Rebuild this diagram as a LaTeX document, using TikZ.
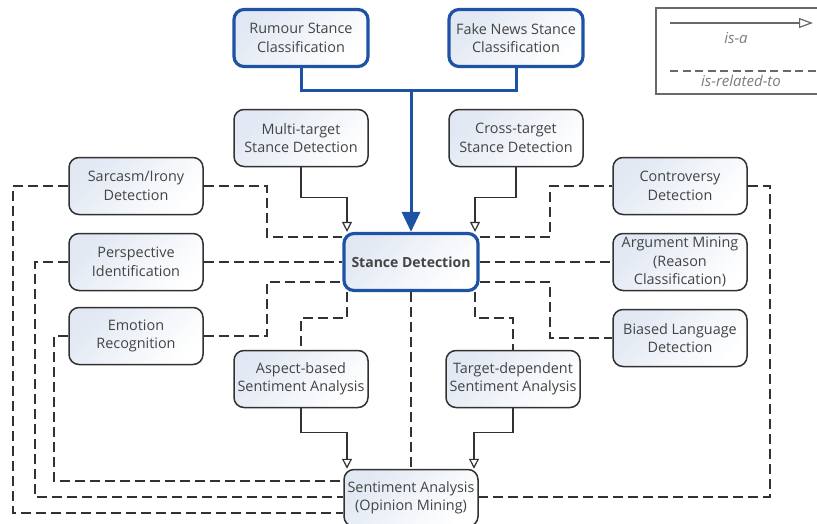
\documentclass[tikz,border=0pt]{standalone}
\usepackage{fontspec}
\setmainfont{Open Sans}
\usetikzlibrary{arrows.meta}
\definecolor{sdblue}{RGB}{30,82,165}
\definecolor{sdgray}{RGB}{50,50,50}
\definecolor{sdtext}{RGB}{68,68,68}
\definecolor{sdshade}{RGB}{225,232,243}
\definecolor{lggray}{RGB}{105,105,105}
\definecolor{lgtext}{RGB}{125,125,125}
\begin{document}
\begin{tikzpicture}[x=1pt,y=-1pt,
  box/.style={draw=sdgray, line width=1.5pt, rounded corners=10pt,
    minimum width=134pt, minimum height=57pt, inner sep=1pt, align=center,
    text=sdtext, font=\fontsize{14.4}{18.5}\selectfont,
    top color=sdshade, bottom color=white, shading angle=45},
  bluebox/.style={box, draw=sdblue, line width=3.2pt},
  isa/.style={draw=sdgray, line width=1.4pt, -{Triangle[open,length=10pt,width=10pt,line width=1.2pt]}},
  rel/.style={draw=sdgray, line width=1.8pt, dash pattern=on 10pt off 5pt},
  blueline/.style={draw=sdblue, line width=3pt},
  bluearrow/.style={blueline, -{Triangle[length=20pt,width=18pt]}},
  lgtxt/.style={text=lgtext, font=\fontsize{15}{17}\selectfont\itshape}
]
\useasboundingbox (0,0) rectangle (817,523);
\clip (0,0) rectangle (817,523);
\fill[white] (0,0) rectangle (817,523);

% nodes
\node[bluebox] (rumour) at (301,38) {Rumour Stance\\Classification};
\node[bluebox] (fake) at (516,38) {Fake News Stance\\Classification};
\node[box] (multi) at (301,138) {Multi-target\\Stance Detection};
\node[box] (cross) at (516,138) {Cross-target\\Stance Detection};
\node[box] (sarc) at (136,186) {Sarcasm/Irony\\Detection};
\node[box] (persp) at (136,262) {Perspective\\Identification};
\node[box] (emo) at (136,336) {Emotion\\Recognition};
\node[box] (contro) at (680,186) {Controversy\\Detection};
\node[box] (arg) at (680,262) {Argument Mining\\(Reason\\Classification)};
\node[box] (biased) at (680,338) {Biased Language\\Detection};
\node[bluebox, font=\fontsize{14}{18.5}\selectfont\bfseries] (stance) at (411,262) {Stance Detection};
\node[box] (aspect) at (301,379) {Aspect-based\\Sentiment Analysis};
\node[box] (target) at (513,379) {Target-dependent\\Sentiment Analysis};
\node[box] (senti) at (411,498) {Sentiment Analysis\\(Opinion Mining)};

% blue is-a
\coordinate (join) at (411,90);
\draw[blueline] (rumour.south) |- (join) -| (fake.south);
\draw[bluearrow] (join) -- (join |- stance.north);

% is-a
\draw[isa] (multi.south) -- ++(0,30) -| ([xshift=-64pt]stance.north);
\draw[isa] (cross.south) -- ++(0,30) -| ([xshift=64pt]stance.north);
\draw[isa] (aspect.south) -- ++(0,24) -| ([xshift=-64pt]senti.north);
\draw[isa] (target.south) -- ++(0,24) -| ([xshift=63pt]senti.north);

% is-related-to
\draw[rel] (sarc.east) -- ++(63,0) |- ([yshift=25pt]stance.west);
\draw[rel] (persp.east) -- (stance.west);
\draw[rel] (emo.east) -- ++(63,0) |- ([yshift=-20pt]stance.west);
\draw[rel] (sarc.west) -- ++(-55,0) |- ([yshift=-15pt]senti.west);
\draw[rel] (persp.west) -- ++(-33,0) |- ([yshift=1pt]senti.west);
\draw[rel] (emo.west) -- ++(-14,0) |- ([yshift=17pt]senti.west);
\draw[rel] ([xshift=-64pt]stance.south) -- ++(0,26) -| (aspect.north);
\draw[rel] ([xshift=64pt]stance.south) -- ++(0,26) -| (target.north);
\draw[rel] (stance.south) -- (senti.north);
\draw[rel] (stance.east) -- (arg.west);
\draw[rel] ([yshift=25pt]stance.east) -- ++(70,0) |- (contro.west);
\draw[rel] ([yshift=-20pt]stance.east) -- ++(70,0) |- (biased.west);
\draw[rel] (contro.east) -- ++(22,0) |- ([yshift=1pt]senti.east);

% legend
\draw[lggray, line width=1.3pt] (900,8) -- (656,8) -- (656,94) -- (900,94);
\coordinate (la1) at (670,23);
\coordinate (la2) at (813,23);
\coordinate (lb1) at (670,71);
\coordinate (lb2) at (820,71);
\draw[lggray, line width=1.4pt, -{Triangle[open,length=14pt,width=10pt,line width=1.2pt]}] (la1) -- (la2);
\draw[lggray, line width=1.6pt, dash pattern=on 8pt off 4.5pt] (lb1) -- (lb2);
\node[lgtxt] (lisa) at (736,38) {is-a};
\node[lgtxt] (lrel) at (741,80.5) {is-related-to};
\end{tikzpicture}
\end{document}
